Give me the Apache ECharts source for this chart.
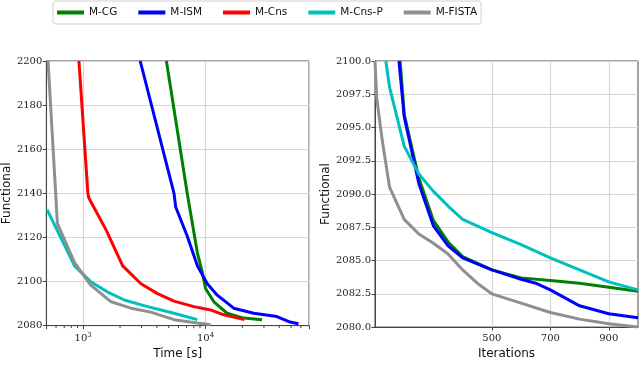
<!DOCTYPE html>
<html>
<head>
<meta charset="utf-8">
<script src="https://cdn.jsdelivr.net/npm/echarts@6/dist/echarts.min.js"></script>
<style>
html,body{margin:0;padding:0;background:#fff;}
#chart{width:640px;height:365px;}
</style>
</head>
<body>
<div id="chart"></div>
<script>
// ---- data ----
const seriesNames = ['M-CG', 'M-ISM', 'M-Cns', 'M-Cns-P', 'M-FISTA'];
const seriesColors = ['#008000', '#0000ff', '#ff0000', '#00bfbf', '#8f8f8f'];

// Left panel: [time (s), functional]
const cgTime = [[4786,2200],[7096,2139.7],[8570,2113.0],[9405,2104.1],[10000,2096.8],[11690,2090.8],[15000,2085.6],[20470,2083.4],[28900,2082.7]];
const ismTime = [[2924,2200],[5521,2140],[5700,2133.8],[7102,2120.4],[8570,2107.1],[10330,2099.0],[12450,2093.8],[16980,2087.9],[24700,2085.6],[38280,2084.1],[49100,2081.6],[57400,2080.8]];
const cnsTime = [[923,2200],[1092,2140],[1112,2137.9],[1538,2123.4],[2103,2107.1],[2964,2099.0],[4048,2094.5],[5521,2091.1],[8035,2088.6],[10990,2087.1],[14100,2084.9],[20750,2082.7]];
const cnspTime = [[507,2132.6],[850,2107.1],[1162,2099.7],[1588,2095.2],[2166,2091.6],[3356,2088.6],[5521,2085.6],[8570,2082.7]];
const fistaTime = [[516,2200],[596,2140],[615,2126.4],[850,2108.6],[1146,2098.5],[1692,2090.8],[2455,2087.9],[3573,2086.1],[5521,2082.7],[8570,2081.2],[10990,2080.4]];

// Right panel: [iterations, functional]
const cgIter = [[186,2100],[200,2096.0],[250,2091.2],[300,2088.0],[350,2086.4],[400,2085.3],[500,2084.3],[600,2083.7],[700,2083.5],[800,2083.3],[900,2083.0],[1000,2082.7]];
const ismIter = [[182,2100],[200,2095.8],[250,2090.8],[300,2087.6],[350,2086.1],[400,2085.2],[500,2084.3],[600,2083.6],[650,2083.3],[700,2082.8],[800,2081.6],[900,2081.0],[1000,2080.7]];
const cnspIter = [[137,2100],[150,2098.0],[200,2093.6],[250,2091.5],[300,2090.2],[350,2089.1],[400,2088.1],[500,2087.1],[600,2086.2],[700,2085.2],[800,2084.3],[900,2083.4],[1000,2082.8]];
const fistaIter = [[100,2100],[106,2097.2],[125,2094.0],[150,2090.5],[200,2088.1],[250,2087.0],[300,2086.3],[350,2085.5],[400,2084.3],[450,2083.3],[500,2082.5],[600,2081.8],[700,2081.1],[800,2080.6],[900,2080.25],[1000,2080.0]];

// axis settings / ticks
const timeMin = 500, timeMax = 70000;
const timeMinorTicks = [600,700,800,900,2000,3000,4000,5000,6000,7000,8000,9000,20000,30000,40000,50000,60000];
const iterTicks = [500, 700, 900];

// ---- chart ----
const tickFont = {fontFamily: 'DejaVu Serif', fontSize: 10, color: '#222'};
const nameFont = {fontFamily: 'DejaVu Sans', fontSize: 12, color: '#111'};
const gridLine = {show: true, lineStyle: {color: '#d6d6d6', width: 1.2}};
const axisLine = {show: true, lineStyle: {color: '#444', width: 1}};
const axisTick = {show: true, inside: false, length: 3.5, lineStyle: {color: '#444', width: 1}};

function mkLine(name, data, xi, yi, idx) {
  return {
    name: name, type: 'line', data: data, xAxisIndex: xi, yAxisIndex: yi,
    showSymbol: false, symbol: 'none', clip: true, animation: false,
    lineStyle: {width: 3, color: seriesColors[idx]}, itemStyle: {color: seriesColors[idx]},
    z: 2 + idx
  };
}

const chart = echarts.init(document.getElementById('chart'), null, {renderer: 'canvas'});
chart.setOption({
  animation: false,
  backgroundColor: '#fff',
  legend: {
    data: seriesNames,
    left: 53, top: 1,
    padding: [6, 4, 6, 4],
    itemWidth: 27, itemHeight: 4, itemGap: 21,
    icon: 'rect',
    borderColor: '#d0d0d0', borderWidth: 1, borderRadius: 3,
    textStyle: {fontFamily: 'DejaVu Sans', fontSize: 10.5, color: '#111'}
  },
  grid: [
    {left: 45, top: 61, width: 264, height: 270, show: true, borderColor: '#444', borderWidth: 1, backgroundColor: 'transparent'},
    {left: 375, top: 61, width: 263, height: 270, show: true, borderColor: '#444', borderWidth: 1, backgroundColor: 'transparent'}
  ],
  xAxis: [
    {
      type: 'log', logBase: 10, gridIndex: 0, min: timeMin, max: timeMax,
      name: 'Time [s]', nameLocation: 'middle', nameGap: 17, nameTextStyle: nameFont,
      axisLine: axisLine, axisTick: axisTick, splitLine: gridLine,
      axisLabel: {
        ...tickFont, margin: 6,
        formatter: function (v) {
          const l = Math.log10(v), e = Math.round(l);
          return Math.abs(l - e) < 1e-6 ? '10{sup|' + e + '}' : '';
        },
        rich: {sup: {fontFamily: 'DejaVu Serif', fontSize: 7, color: '#222', padding: [0, 0, 6, 0]}}
      }
    },
    {
      type: 'value', gridIndex: 1, min: 100, max: 1000,
      name: 'Iterations', nameLocation: 'middle', nameGap: 17, nameTextStyle: nameFont,
      axisLine: axisLine,
      axisTick: {...axisTick, customValues: iterTicks},
      splitLine: gridLine,
      axisLabel: {...tickFont, margin: 6, customValues: iterTicks}
    }
  ],
  yAxis: [
    {
      type: 'value', gridIndex: 0, min: 2080, max: 2200, interval: 20,
      name: 'Functional', nameLocation: 'middle', nameGap: 32, nameRotate: 90, nameTextStyle: nameFont,
      axisLine: axisLine, axisTick: axisTick, splitLine: gridLine,
      axisLabel: {...tickFont, margin: 4, formatter: function (v) { return String(Math.round(v)); }}
    },
    {
      type: 'value', gridIndex: 1, min: 2080, max: 2100, interval: 2.5,
      name: 'Functional', nameLocation: 'middle', nameGap: 39, nameRotate: 90, nameTextStyle: nameFont,
      axisLine: axisLine, axisTick: axisTick, splitLine: gridLine,
      axisLabel: {...tickFont, margin: 4, formatter: function (v) { return v.toFixed(1); }}
    }
  ],
  series: [
    mkLine('M-CG', cgTime, 0, 0, 0),
    mkLine('M-ISM', ismTime, 0, 0, 1),
    mkLine('M-Cns', cnsTime, 0, 0, 2),
    mkLine('M-Cns-P', cnspTime, 0, 0, 3),
    mkLine('M-FISTA', fistaTime, 0, 0, 4),
    mkLine('M-CG', cgIter, 1, 1, 0),
    mkLine('M-ISM', ismIter, 1, 1, 1),
    mkLine('M-Cns-P', cnspIter, 1, 1, 3),
    mkLine('M-FISTA', fistaIter, 1, 1, 4),
    {
      type: 'custom', name: 'minorTicks', xAxisIndex: 0, yAxisIndex: 0, clip: false, silent: true, z: 10,
      data: timeMinorTicks.map(function (v) { return [v, 2080]; }),
      renderItem: function (params, api) {
        const p = api.coord([api.value(0), api.value(1)]);
        return {type: 'line', shape: {x1: p[0], y1: p[1], x2: p[0], y2: p[1] + 2.5},
                style: {stroke: '#444', lineWidth: 1}};
      }
    }
  ]
});
</script>
</body>
</html>
